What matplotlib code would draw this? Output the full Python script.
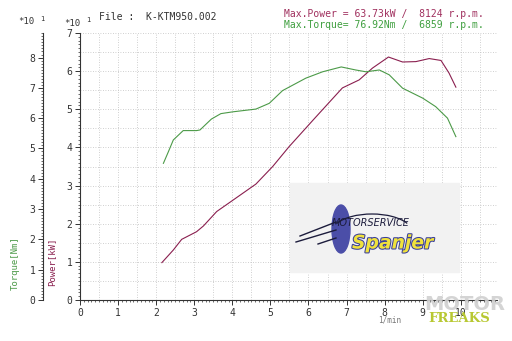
import matplotlib.pyplot as plt
import matplotlib.patheffects as pe
from matplotlib.ticker import MultipleLocator
from matplotlib.patches import Rectangle, Ellipse, Arc

# Datos (rpm x1000, potencia x10 kW, par x10 Nm)
rpm_power = [2.15, 2.45, 2.67, 3.06, 3.24, 3.59, 4.02, 4.62, 5.06, 5.49, 6.15,
             6.89, 7.33, 7.68, 8.1, 8.47, 8.82, 9.17, 9.48, 9.69, 9.87]
power = [0.98, 1.31, 1.59, 1.79, 1.94, 2.32, 2.62, 3.04, 3.5, 4.02, 4.75,
         5.56, 5.77, 6.08, 6.37, 6.24, 6.25, 6.33, 6.28, 5.95, 5.58]

rpm_torque = [2.19, 2.32, 2.45, 2.71, 3.06, 3.15, 3.45, 3.7, 4.02, 4.62, 4.97,
              5.32, 5.93, 6.37, 6.86, 7.24, 7.51, 7.86, 8.12, 8.47, 9.0, 9.34,
              9.65, 9.87]
torque = [4.51, 4.89, 5.28, 5.59, 5.59, 5.61, 5.97, 6.15, 6.21, 6.3, 6.49,
          6.91, 7.32, 7.53, 7.69, 7.59, 7.53, 7.59, 7.43, 6.99, 6.66, 6.38,
          6.0, 5.39]

x_ticks = list(range(0, 11))
power_ticks = list(range(0, 8))
torque_ticks = list(range(0, 9))

titulo = 'File :  K-KTM950.002'
info_power = 'Max.Power = 63.73kW /  8124 r.p.m.'
info_torque = 'Max.Torque= 76.92Nm /  6859 r.p.m.'

c_power = '#8a1f4f'
c_torque = '#4c9a48'
c_text = '#333333'
mono = 'DejaVu Sans Mono'

fig = plt.figure(figsize=(5.12, 3.41), dpi=100)
fig.patch.set_facecolor('white')

# Eje principal (potencia)
ax = fig.add_axes([80 / 512, 41 / 341, 417 / 512, 267 / 341])
ax.set_xlim(0, 10.95)
ax.set_ylim(0, 7)
ax.plot(rpm_power, power, color=c_power, lw=0.8)

ax.set_xticks(x_ticks)
ax.set_yticks(power_ticks)
ax.xaxis.set_minor_locator(MultipleLocator(0.1))
ax.yaxis.set_minor_locator(MultipleLocator(0.1))
ax.tick_params(which='major', length=3.5, width=0.7, color=c_text,
               labelsize=7, labelcolor=c_text, pad=2)
ax.tick_params(which='minor', length=1.5, width=0.5, color=c_text)
for lab in ax.get_xticklabels() + ax.get_yticklabels():
    lab.set_family(mono)

for s in ['top', 'right']:
    ax.spines[s].set_visible(False)
for s in ['left', 'bottom']:
    ax.spines[s].set_linewidth(0.8)
    ax.spines[s].set_color(c_text)

# Cuadrícula punteada
for gx in [i * 0.5 for i in range(1, 22)]:
    ax.axvline(gx, color='#c0c0c0', lw=0.6, ls=(0, (1, 2)), zorder=0)
for gy in [i * 0.5 for i in range(1, 15)]:
    ax.axhline(gy, color='#c0c0c0', lw=0.6, ls=(0, (1, 2)), zorder=0)

# Eje del par (a la izquierda)
ax2 = ax.twinx()
ax2.set_ylim(0, 8.81)
ax2.plot(rpm_torque, torque, color=c_torque, lw=0.8)
ax2.spines['left'].set_position(('axes', (43 - 80) / 417))
ax2.spines['left'].set_visible(True)
ax2.spines['left'].set_linewidth(0.8)
ax2.spines['left'].set_color(c_text)
for s in ['top', 'right', 'bottom']:
    ax2.spines[s].set_visible(False)
ax2.yaxis.set_ticks_position('left')
ax2.yaxis.set_label_position('left')
ax2.set_yticks(torque_ticks)
ax2.yaxis.set_minor_locator(MultipleLocator(0.1))
ax2.tick_params(which='major', length=3.5, width=0.7, color=c_text,
                labelsize=7, labelcolor=c_text, pad=2)
ax2.tick_params(which='minor', length=1.5, width=0.5, color=c_text)
for lab in ax2.get_yticklabels():
    lab.set_family(mono)

# Textos
def ftxt(x, y, s, **kw):
    return fig.text(x / 512, 1 - y / 341, s, **kw)

ftxt(18, 22, '*10', family=mono, fontsize=6.5, color=c_text, va='center')
ftxt(40, 19, '1', family=mono, fontsize=5, color=c_text, va='center')
ftxt(64, 23, '*10', family=mono, fontsize=6.5, color=c_text, va='center')
ftxt(86, 20, '1', family=mono, fontsize=5, color=c_text, va='center')
ftxt(99, 17, titulo, family=mono, fontsize=7, color=c_text, va='center')
ftxt(284, 14, info_power, family=mono, fontsize=7, color='#a0305e', va='center')
ftxt(284, 25, info_torque, family=mono, fontsize=7, color='#3f9f3f', va='center')
ftxt(15, 263, 'Torque[Nm]', family=mono, fontsize=6.5, color=c_torque,
     rotation=90, ha='center', va='center')
ftxt(52, 262, 'Power[kW]', family=mono, fontsize=6.5, color=c_power,
     rotation=90, ha='center', va='center')
ftxt(390, 320, '1/min', family=mono, fontsize=5.5, color='#777777',
     ha='center', va='center')

# Logo Motorservice Spanjer
fig.patches.append(Rectangle((290 / 512, 1 - 272 / 341), 169 / 512, 89 / 341,
                             transform=fig.transFigure, color='#f2f2f2', zorder=0.5))
fig.patches.append(Ellipse((341 / 512, 1 - 229 / 341), 18 / 512, 48 / 341,
                           transform=fig.transFigure, color='#4b4ea8', zorder=1))
fig.patches.append(Arc((372 / 512, 1 - 232 / 341), 80 / 512, 36 / 341,
                       theta1=20, theta2=160, transform=fig.transFigure,
                       color='#1c1c3c', lw=0.9, zorder=2))
for (x0, y0, x1, y1) in [(300, 236, 336, 222), (296, 242, 336, 230), (318, 244, 336, 238)]:
    fig.add_artist(plt.Line2D([x0 / 512, x1 / 512], [1 - y0 / 341, 1 - y1 / 341],
                              transform=fig.transFigure, color='#1c1c3c', lw=1))
ftxt(332, 223, 'MOTORSERVICE', fontsize=7, style='italic', color='#1c1c3c',
     va='center', zorder=3)
ftxt(352, 243, 'Spanjer', fontsize=13.5, style='italic', weight='bold',
     color='#f0e23c', va='center', zorder=3,
     path_effects=[pe.withStroke(linewidth=1.5, foreground='#3a3f9a')])

# Marca de agua
ftxt(424, 305, 'MOTOR', fontsize=14, weight='bold', color='#d0d0d0',
     va='center', family='DejaVu Sans Condensed', alpha=0.9)
ftxt(428, 318, 'FREAKS', fontsize=9.5, weight='bold', color='#b8c832',
     va='center', family='DejaVu Serif')

plt.savefig('out.png', dpi=100)
